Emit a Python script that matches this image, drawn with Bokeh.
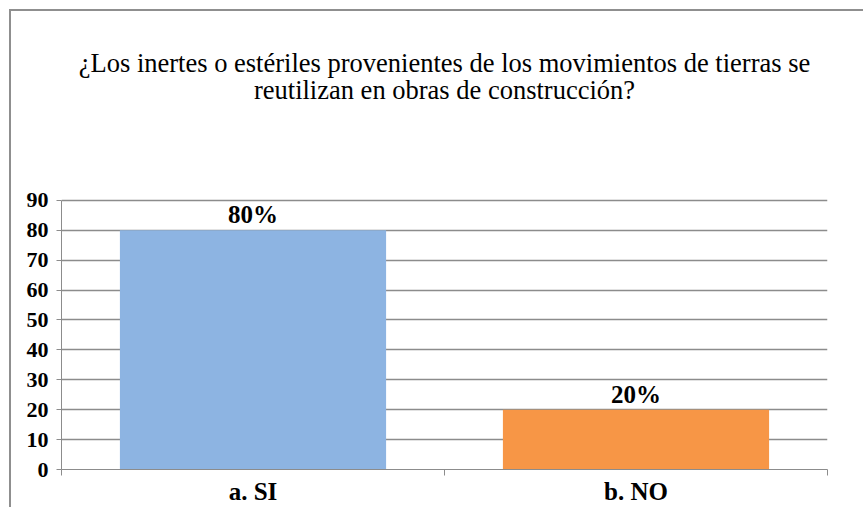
from bokeh.plotting import figure
from bokeh.models import Range1d, FixedTicker, ColumnDataSource
from bokeh.core.properties import value
from bokeh.embed import file_html
from bokeh.resources import INLINE

categories = ["a. SI", "b. NO"]
values = [80, 20]
labels = ["80%", "20%"]
colors = ["#8DB4E2", "#F79646"]
y_ticks = [0, 10, 20, 30, 40, 50, 60, 70, 80, 90]
title_lines = ["¿Los inertes o estériles provenientes de los movimientos de tierras se",
               "reutilizan en obras de construcción?"]

xs = [i + 0.5 for i in range(len(categories))]
src = ColumnDataSource(dict(x=xs, top=values, lab=labels, color=colors))

FONT = "Liberation Serif"
GRID = "#8c8c8c"

# geometry: the value axis runs 0..90; the frame extends above it to hold the title
Y_MAX = 90
PX_PER_UNIT = 268 / 90.0
FRAME_H = 496 - 40
y_top = FRAME_H / PX_PER_UNIT
title_y = [Y_MAX + 137 / PX_PER_UNIT, Y_MAX + 110 / PX_PER_UNIT]

p = figure(width=854, height=498, output_backend="svg", toolbar_location=None,
           x_range=Range1d(0, len(categories)), y_range=Range1d(0, y_top),
           min_border_left=50, min_border_right=38, min_border_bottom=40,
           min_border_top=0)
p.styles = {"border-top": "2px solid #8f8f8f", "border-left": "2px solid #8f8f8f",
            "box-sizing": "border-box", "margin-left": "9px", "margin-top": "9px"}
p.outline_line_color = None
p.background_fill_color = "white"
p.border_fill_color = "white"

p.vbar(x="x", top="top", width=0.695, bottom=0, color="color", line_color=None, source=src)
p.text(x="x", y="top", text="lab", source=src, text_align="center",
       text_baseline="bottom", y_offset=-2, text_font=value(FONT),
       text_font_style="bold", text_font_size="25px", text_color="black")

# two-line chart title
tsrc = ColumnDataSource(dict(x=[len(categories) / 2] * len(title_lines), y=title_y,
                             t=title_lines))
p.text(x="x", y="y", text="t", source=tsrc, text_align="center",
       text_baseline="middle", text_font=value(FONT), text_font_style="normal",
       text_font_size="26.5px", text_color="black")

# y axis
p.yaxis.ticker = FixedTicker(ticks=y_ticks)
p.yaxis.bounds = (0, Y_MAX)
p.yaxis.axis_line_color = GRID
p.yaxis.major_tick_line_color = GRID
p.yaxis.major_tick_out = 5
p.yaxis.major_tick_in = 0
p.yaxis.minor_tick_line_color = None
p.yaxis.major_label_standoff = 8
p.yaxis.major_label_text_font = FONT
p.yaxis.major_label_text_font_style = "bold"
p.yaxis.major_label_text_font_size = "22px"
p.yaxis.major_label_text_color = "black"

# x axis: labels at centers, ticks between categories
p.xaxis.ticker = FixedTicker(ticks=xs, minor_ticks=list(range(len(categories) + 1)))
p.xaxis.major_label_overrides = {x: c for x, c in zip(xs, categories)}
p.xaxis.axis_line_color = GRID
p.xaxis.major_tick_line_color = None
p.xaxis.minor_tick_line_color = GRID
p.xaxis.minor_tick_out = 6
p.xaxis.minor_tick_in = 0
p.xaxis.major_label_standoff = 2
p.xaxis.major_label_text_font = FONT
p.xaxis.major_label_text_font_style = "bold"
p.xaxis.major_label_text_font_size = "25px"
p.xaxis.major_label_text_color = "black"

p.xgrid.grid_line_color = None
p.ygrid.grid_line_color = GRID
p.ygrid.grid_line_width = 1.3

open("out.html", "w").write(file_html(p, INLINE))
